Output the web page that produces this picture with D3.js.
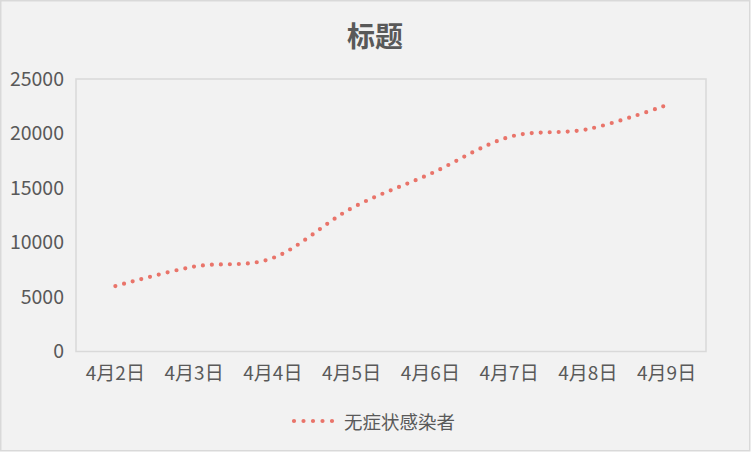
<!DOCTYPE html>
<html><head><meta charset="utf-8">
<script src="https://cdn.jsdelivr.net/npm/d3@7"></script>
<style>
html,body{margin:0;padding:0;background:#fff;}
svg{display:block;}
text{font-family:"Noto Sans CJK SC","Noto Sans",sans-serif;fill:#595959;}
</style></head>
<body>
<script>
const categories = ["4月2日","4月3日","4月4日","4月5日","4月6日","4月7日","4月8日","4月9日"];
const seriesName = "无症状感染者";
const values = [6000, 7790, 8580, 13150, 16300, 19680, 20400, 22600];
const yTicks = [0, 5000, 10000, 15000, 20000, 25000];
const title = "标题";

const W = 752, H = 465;
const svg = d3.select("body").append("svg").attr("width", W).attr("height", H);

// chart frame
svg.append("rect").attr("x",0.75).attr("y",0.75).attr("width",749).attr("height",450)
  .attr("fill","#F2F2F2").attr("stroke","#D9D9D9").attr("stroke-width",1.5);

const L = 76, R = 706, T = 79, B = 351.5;
const x = d3.scaleBand().domain(categories).range([L, R]);
const y = d3.scaleLinear().domain([0, 25000]).range([B, T]);

// plot area border
svg.append("rect").attr("x",L).attr("y",T).attr("width",R-L).attr("height",B-T)
  .attr("fill","none").attr("stroke","#D9D9D9").attr("stroke-width",1.5);

// title
svg.append("text").attr("x",375).attr("y",35).attr("text-anchor","middle")
  .attr("dominant-baseline","central").style("font-size","28px").style("font-weight","bold")
  .text(title);

const font = '"Noto Sans CJK SC","Noto Sans",sans-serif';
// y axis
const yAxis = svg.append("g").attr("transform",`translate(${L},0)`)
  .call(d3.axisLeft(y).tickValues(yTicks).tickSize(0).tickPadding(12).tickFormat(d3.format("d")));
yAxis.select(".domain").remove();
yAxis.selectAll("text").style("font-size","19.5px").attr("fill","#595959").style("font-family",font);

// x axis
const xAxis = svg.append("g").attr("transform",`translate(0,${B})`)
  .call(d3.axisBottom(x).tickSize(0).tickPadding(15));
xAxis.select(".domain").remove();
xAxis.selectAll("text").style("font-size","19px").attr("fill","#595959").style("font-family",font);

// line
const color = "#E9746A";
const line = d3.line()
  .x((d,i) => x(categories[i]) + x.bandwidth()/2)
  .y(d => y(d))
  .curve(d3.curveCatmullRom.alpha(0));
svg.append("path").datum(values).attr("d", line)
  .attr("fill","none").attr("stroke",color).attr("stroke-width",4.2)
  .attr("stroke-linecap","round").attr("stroke-dasharray","0 9");

// legend
const lg = svg.append("g");
lg.append("line").attr("x1",294).attr("x2",332.2).attr("y1",421).attr("y2",421)
  .attr("stroke",color).attr("stroke-width",4.2).attr("stroke-linecap","round")
  .attr("stroke-dasharray","0 9.5");
lg.append("text").attr("x",344).attr("y",420.5).attr("dominant-baseline","central")
  .style("font-size","18.5px").text(seriesName);
</script>
</body></html>
